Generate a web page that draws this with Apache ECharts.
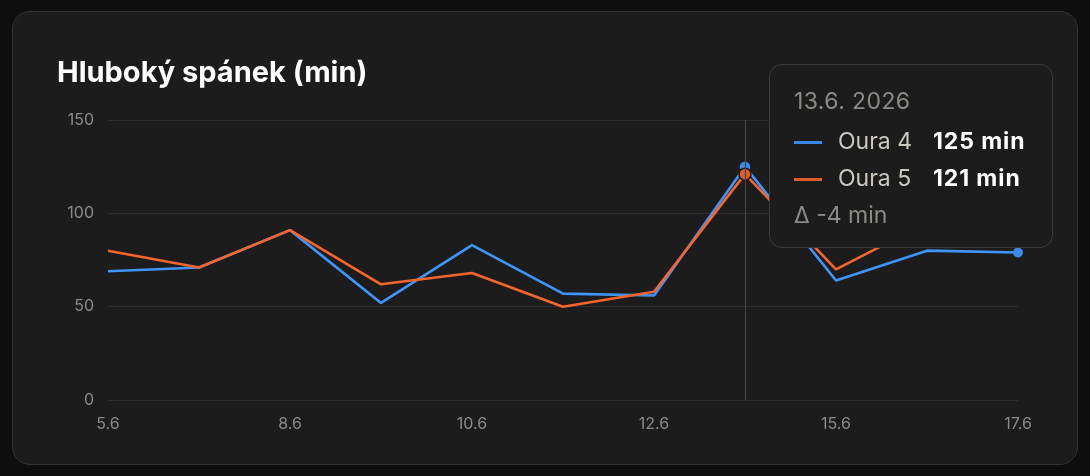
<!DOCTYPE html>
<html>
<head>
<meta charset="utf-8">
<script src="https://cdn.jsdelivr.net/npm/echarts@6/dist/echarts.min.js"></script>
<style>
  html, body { margin: 0; padding: 0; background: #0e0e0e; width: 1090px; height: 476px; overflow: hidden; }
  #card { position: absolute; left: 12px; top: 11px; width: 1064px; height: 452px;
          background: #1c1c1c; border: 1px solid #333; border-radius: 18px; }
  #chart { position: absolute; left: 0; top: 0; width: 1090px; height: 476px; }
</style>
</head>
<body>
<div id="card"></div>
<div id="chart"></div>
<script>
// data
const dates = ["5.6", "7.6", "8.6", "9.6", "10.6", "11.6", "12.6", "13.6", "15.6", "16.6", "17.6"];
const oura4 = [69, 71, 91, 52, 83, 57, 56, 125, 64, 80, 79];
const oura5 = [80, 71, 91, 62, 68, 50, 58, 121, 70, 95, 88];
const year = "2026";
const names = ["Oura 4", "Oura 5"];
const colors = ["#3a89e4", "#e05c29"];
const yTicks = { min: 0, max: 150, step: 50 };

const FONT = "Inter, 'Noto Sans', sans-serif";

function lastPoint(arr, color) {
    var i = arr.length - 1;
    return {
        symbol: "circle", symbolSize: 10, silent: true,
        itemStyle: { color: color },
        label: { show: false },
        data: [{ coord: [dates[i], arr[i]] }],
    };
}

function lineSeries(name, values, color) {
    return {
        name: name, type: "line", data: values,
        showSymbol: false, symbol: "circle", symbolSize: 12,
        lineStyle: { width: 2.6, color: color },
        itemStyle: { color: color, borderColor: "#1c1c1c", borderWidth: 1.5 },
        emphasis: { scale: false },
        markPoint: lastPoint(values, color),
    };
}

function tipHtml(params) {
    var idx = params[0].dataIndex;
    var html = '<div style="width:234px;font-family:' + FONT + ';font-size:23px;">';
    html += '<div style="color:#8b8b86;line-height:28px;margin-bottom:8px;letter-spacing:0.4px;">' + dates[idx] + '. ' + year + '</div>';
    var vals = [];
    params.forEach(function(p) {
        if (p.seriesType !== "line") return;
        vals.push(p.value);
        html += '<div style="line-height:37px;white-space:nowrap;">' +
            '<span style="display:inline-block;width:28px;height:3px;background:' + colors[p.seriesIndex] +
            ';vertical-align:middle;margin-right:16px;"></span>' +
            '<span style="display:inline-block;width:95px;color:#c9c9c1;">' + p.seriesName + '</span>' +
            '<span style="color:#fff;font-weight:700;letter-spacing:0.9px;">' + p.value + ' min</span></div>';
    });
    var d = vals[1] - vals[0];
    html += '<div style="color:#8b8b86;line-height:36px;">Δ ' + (d > 0 ? "+" : "") + d + ' min</div>';
    html += '</div>';
    return html;
}

var chart = echarts.init(document.getElementById("chart"));
chart.setOption({
    animation: false,
    backgroundColor: "transparent",
    title: {
        text: "Hluboký spánek (min)", left: 52, top: 54,
        textStyle: { color: "#fff", fontSize: 29, fontWeight: 700, fontFamily: FONT },
    },
    grid: { left: 108, right: 72, top: 120, bottom: 76 },
    xAxis: {
        type: "category", data: dates, boundaryGap: false,
        axisLine: { show: false }, axisTick: { show: false },
        axisLabel: {
            color: "#8a8a8a", fontSize: 16, fontFamily: FONT, margin: 16,
            interval: function(i) { return i % 2 === 0; },
        },
        axisPointer: { lineStyle: { color: "#444", width: 1.2, type: "solid" } },
    },
    yAxis: {
        type: "value", min: yTicks.min, max: yTicks.max, interval: yTicks.step,
        axisLine: { show: false }, axisTick: { show: false },
        axisLabel: { color: "#8a8a8a", fontSize: 16, fontFamily: FONT, margin: 14 },
        splitLine: { lineStyle: { color: "#2e2e2e", width: 1.2 } },
    },
    tooltip: {
        trigger: "axis", triggerOn: "none", alwaysShowContent: true, transitionDuration: 0,
        axisPointer: { type: "line", lineStyle: { color: "#444", width: 1.2, type: "solid" } },
        backgroundColor: "#1c1c1c", borderColor: "#3a3a3a", borderWidth: 1.5,
        padding: [22, 24, 14, 24],
        extraCssText: "border-radius:13px;box-shadow:none;",
        position: function() { return [769, 64]; },
        formatter: tipHtml,
    },
    series: [
        lineSeries(names[0], oura4, colors[0]),
        lineSeries(names[1], oura5, colors[1]),
    ],
});
chart.dispatchAction({ type: "showTip", seriesIndex: 0, dataIndex: 7 });
</script>
</body>
</html>
